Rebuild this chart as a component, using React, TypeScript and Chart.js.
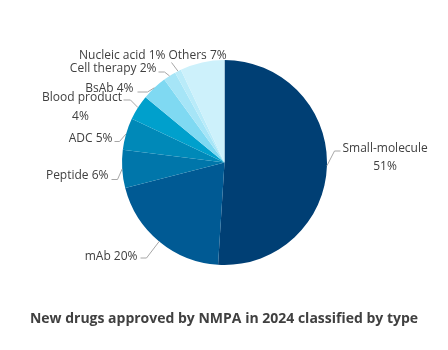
import React, { useEffect, useRef } from "react";
import { Chart, registerables } from "chart.js";

Chart.register(...registerables);

const categories = [
  "Small-molecule",
  "mAb",
  "Peptide",
  "ADC",
  "Blood product",
  "BsAb",
  "Cell therapy",
  "Nucleic acid",
  "Others",
];
const shares = [51, 20, 6, 5, 4, 4, 2, 1, 7];
const sliceColors = [
  "#003f74",
  "#005a94",
  "#0076aa",
  "#0089b8",
  "#00a0cc",
  "#7fd9f2",
  "#a6e5f7",
  "#b9ebf9",
  "#cdf1fb",
];
const titleText = "New drugs approved by NMPA in 2024 classified by type";

const FONT = '"Open Sans", "Noto Sans", sans-serif';
const TEXT_COLOR = "#404040";
const LINE_COLOR = "#a6a6a6";

// label layout relative to pie centre: lines (text, dx, dy, align), leader points
type LabelLayout = {
  lines: { dx: number; dy: number; align: CanvasTextAlign; split: number }[];
  leader: [number, number][];
};
const layouts: LabelLayout[] = [
  { lines: [{ dx: 118, dy: -13.5, align: "left", split: 0 }, { dx: 160.5, dy: 4.5, align: "center", split: 1 }], leader: [[110, -11.5], [116, -11.5]] },
  { lines: [{ dx: -87, dy: 94.5, align: "right", split: -1 }], leader: [[-78, 95.5], [-84, 95.5]] },
  { lines: [{ dx: -116, dy: 13.5, align: "right", split: -1 }], leader: [[-107, 17], [-113, 17]] },
  { lines: [{ dx: -112, dy: -23.5, align: "right", split: -1 }], leader: [[-105, -21], [-110, -21]] },
  { lines: [{ dx: -142.5, dy: -65, align: "center", split: 0 }, { dx: -144, dy: -46, align: "center", split: 1 }], leader: [[-94, -62.5], [-101, -62.5]] },
  { lines: [{ dx: -91, dy: -73.5, align: "right", split: -1 }], leader: [[-77, -70.5], [-87, -70.5]] },
  { lines: [{ dx: -68, dy: -93.5, align: "right", split: -1 }], leader: [[-60, -90.5], [-66, -90.5]] },
  { lines: [{ dx: -59, dy: -106.5, align: "right", split: -1 }], leader: [[-53, -100]] },
  { lines: [{ dx: -56, dy: -106.5, align: "left", split: -1 }], leader: [] },
];

const labelPlugin = {
  id: "pieLabels",
  afterDraw(chart: any) {
    const ctx = chart.ctx as CanvasRenderingContext2D;
    const meta = chart.getDatasetMeta(0);
    ctx.save();
    meta.data.forEach((arc: any, i: number) => {
      const { x: cx, y: cy, startAngle, endAngle, outerRadius } = arc.getProps(
        ["x", "y", "startAngle", "endAngle", "outerRadius"],
        true
      );
      const mid = (startAngle + endAngle) / 2;
      const ax = cx + Math.cos(mid) * outerRadius;
      const ay = cy + Math.sin(mid) * outerRadius;
      const lay = layouts[i];
      if (lay.leader.length) {
        ctx.beginPath();
        ctx.strokeStyle = LINE_COLOR;
        ctx.lineWidth = 1;
        ctx.moveTo(ax, ay);
        lay.leader.forEach(([dx, dy]) => ctx.lineTo(cx + dx, cy + dy));
        ctx.stroke();
      }
      const full = `${categories[i]} ${shares[i]}%`;
      ctx.fillStyle = TEXT_COLOR;
      ctx.font = `12px ${FONT}`;
      ctx.textBaseline = "middle";
      lay.lines.forEach((ln) => {
        const txt = ln.split === -1 ? full : ln.split === 0 ? categories[i] : `${shares[i]}%`;
        ctx.textAlign = ln.align;
        ctx.fillText(txt, cx + ln.dx, cy + ln.dy);
      });
    });
    // title
    ctx.font = `bold 14px ${FONT}`;
    ctx.fillStyle = TEXT_COLOR;
    ctx.textAlign = "center";
    ctx.textBaseline = "middle";
    ctx.fillText(titleText, chart.width / 2, 319);
    ctx.restore();
  },
};

export default function App() {
  const ref = useRef<HTMLCanvasElement | null>(null);
  useEffect(() => {
    if (!ref.current) return;
    const chart = new Chart(ref.current, {
      type: "pie",
      data: {
        labels: categories,
        datasets: [
          {
            data: shares,
            backgroundColor: sliceColors,
            borderWidth: 0,
          },
        ],
      },
      options: {
        animation: false,
        responsive: false,
        maintainAspectRatio: false,
        layout: { padding: { top: 60, bottom: 85, left: 122, right: 121 } },
        plugins: {
          legend: { display: false },
          tooltip: { enabled: false },
          title: { display: false },
        },
      },
      plugins: [labelPlugin],
    });
    return () => chart.destroy();
  }, []);
  return (
    <div style={{ position: "fixed", left: 0, top: 0, width: 448, height: 350, background: "#fff" }}>
      <canvas ref={ref} width={448} height={350} style={{ width: 448, height: 350 }} />
    </div>
  );
}
